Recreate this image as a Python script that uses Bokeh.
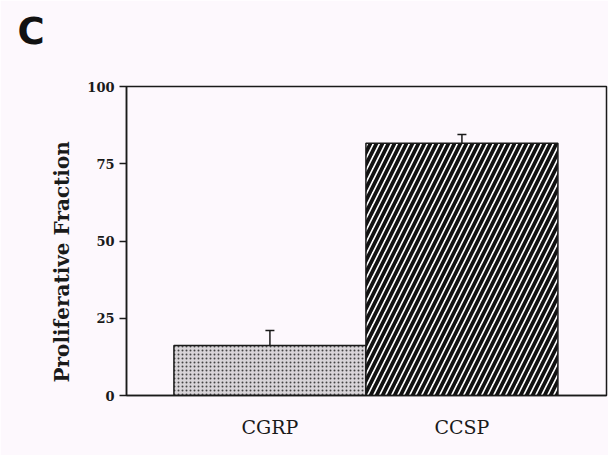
from bokeh.plotting import figure
from bokeh.models import (ColumnDataSource, Range1d, FixedTicker, Whisker,
                          TeeHead)
from bokeh.embed import file_html
from bokeh.resources import INLINE

# Proliferative fraction by cell type
categories = ["CGRP", "CCSP"]
values = [16.2, 81.6]
errors = [4.8, 2.9]
y_ticks = [0, 25, 50, 75, 100]

positions = [i + 1 for i in range(len(categories))]
upper = [v + e for v, e in zip(values, errors)]

BG = "#fdf8fd"
INK = "#1a1a1a"
SERIF = "DejaVu Serif"
NBSP = "\u00a0"

p = figure(width=608, height=455, output_backend="svg", toolbar_location=None,
           x_range=Range1d(0.253, 2.753), y_range=Range1d(0, 100),
           min_border_left=126, min_border_right=2,
           min_border_top=86, min_border_bottom=60)
p.background_fill_color = BG
p.border_fill_color = BG
p.outline_line_color = INK
p.outline_line_width = 1.5
p.grid.visible = False

# panel letter in the top-left corner; an empty second line lifts it
# toward the top of the page
p.title.text = "C\n" + NBSP
p.title.align = "left"
p.title.offset = -109
p.title.standoff = 6
p.title.text_line_height = 0.7
p.title.text_font = "DejaVu Sans"
p.title.text_font_style = "bold"
p.title.text_font_size = "37px"
p.title.text_color = "#111111"

# two bars, each with its own fill pattern
cgrp = ColumnDataSource(dict(x=positions[:1], top=values[:1]))
ccsp = ColumnDataSource(dict(x=positions[1:], top=values[1:]))
p.vbar(x="x", top="top", bottom=0, width=1.0, source=cgrp,
       fill_color="#d8d4d8", line_color=INK, line_width=1.5,
       hatch_pattern="dot", hatch_scale=4, hatch_weight=2.6,
       hatch_color="#444444")
p.vbar(x="x", top="top", bottom=0, width=1.0, source=ccsp,
       fill_color="white", line_color=INK, line_width=1.5,
       hatch_pattern="right_diagonal_line", hatch_scale=12, hatch_weight=3.8,
       hatch_color="#111111")

# upper error bars
err = ColumnDataSource(dict(x=positions, lower=values, upper=upper))
p.add_layout(Whisker(base="x", lower="lower", upper="upper", source=err,
                     dimension="height", line_color=INK, line_width=1.5,
                     lower_head=None,
                     upper_head=TeeHead(size=9, line_color=INK, line_width=1.5)))

# y axis (trailing no-break spaces push the label toward the bottom)
p.yaxis.ticker = FixedTicker(ticks=y_ticks)
p.yaxis.minor_tick_line_color = None
p.yaxis.major_tick_out = 7
p.yaxis.major_tick_in = 0
p.yaxis.major_tick_line_color = INK
p.yaxis.major_tick_line_width = 1.5
p.yaxis.axis_line_color = INK
p.yaxis.axis_line_width = 1.5
p.yaxis.major_label_standoff = 5
p.yaxis.major_label_text_font = SERIF
p.yaxis.major_label_text_font_style = "bold"
p.yaxis.major_label_text_font_size = "13px"
p.yaxis.major_label_text_color = INK
p.yaxis.axis_label = "Proliferative Fraction" + NBSP * 6
p.yaxis.axis_label_text_font = SERIF
p.yaxis.axis_label_text_font_style = "bold"
p.yaxis.axis_label_text_font_size = "20px"
p.yaxis.axis_label_text_color = INK
p.yaxis.axis_label_standoff = 10

# x axis: category names under the bars
p.xaxis.ticker = FixedTicker(ticks=positions)
p.xaxis.major_label_overrides = {pos: name for pos, name in zip(positions, categories)}
p.xaxis.minor_tick_line_color = None
p.xaxis.major_tick_line_color = None
p.xaxis.axis_line_color = INK
p.xaxis.axis_line_width = 1.5
p.xaxis.major_label_standoff = 14
p.xaxis.major_label_text_font = SERIF
p.xaxis.major_label_text_font_size = "19px"
p.xaxis.major_label_text_color = INK

open("out.html", "w").write(file_html(p, INLINE))
